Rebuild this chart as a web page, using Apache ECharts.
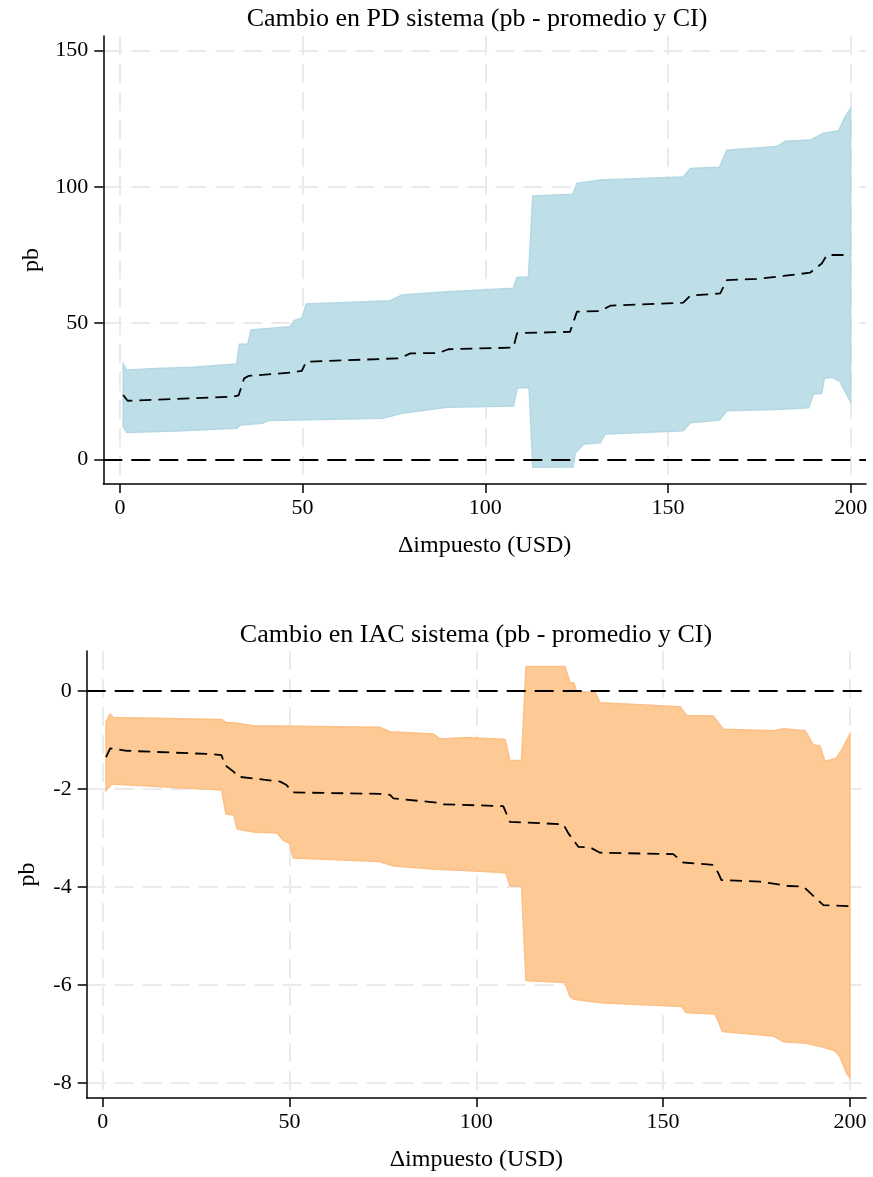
<!DOCTYPE html>
<html><head><meta charset="utf-8">
<script src="https://cdn.jsdelivr.net/npm/echarts@6/dist/echarts.min.js"></script>
<style>html,body{margin:0;padding:0;background:#fff}#c{width:873px;height:1177px}</style>
</head><body><div id="c"></div>
<script>
// ---------- text ----------
const titlePD = 'Cambio en PD sistema (pb - promedio y CI)';
const titleIAC = 'Cambio en IAC sistema (pb - promedio y CI)';
const xName = 'Δimpuesto (USD)';
const yName = 'pb';

// ---------- tick labels ----------
const xTicks = [0, 50, 100, 150, 200];
const pdTicks = [0, 50, 100, 150];
const iacTicks = [-8, -6, -4, -2, 0];

// ---------- PD: upper CI ----------
const pdHiX = [0.9, 1.8, 10, 20, 32, 32.7, 35, 35.9, 46.6, 47.7, 49.8, 51, 74, 77.2, 89.5, 97.7, 107.7, 108.7, 111.8, 113, 124, 125.1, 131.5, 154.2, 156.1, 164.1, 166.1, 179.8, 182.1, 188.9, 192.6, 196.7, 198.5, 200];
const pdHi  = [35.0, 32.8, 33.3, 33.8, 35.0, 42.2, 42.2, 47.5, 48.7, 50.9, 51.9, 57.0, 58.2, 60.3, 61.5, 62.1, 62.8, 66.8, 66.8, 96.7, 97.3, 101.3, 102.5, 103.6, 106.8, 107.2, 113.5, 114.8, 116.8, 117.2, 119.7, 120.6, 125.8, 128.8];
// ---------- PD: lower CI ----------
const pdLoX = [0.9, 1.9, 15, 32, 33, 38.9, 40.7, 72, 77.2, 89.5, 107.7, 108.8, 112, 113, 124, 124.6, 126.9, 131.5, 132.8, 154.2, 156.1, 164.1, 166.1, 179.8, 188.5, 189.8, 192.1, 192.8, 194.9, 197.1, 198.5, 200];
const pdLo  = [12.0, 9.8, 10.4, 11.4, 12.6, 13.2, 14.2, 15.1, 16.9, 19.1, 19.6, 26.3, 26.3, -2.9, -2.8, 2.2, 5.6, 6.1, 9.3, 10.5, 13.4, 14.4, 17.8, 18.3, 18.9, 24.0, 24.2, 29.7, 30.1, 28.5, 24.8, 21.1];
// ---------- PD: mean ----------
const pdMeanX = [0.9, 2.1, 31.1, 32.5, 34, 35.2, 46.6, 49.8, 51, 76.7, 79.5, 87.2, 89.9, 107.7, 108.7, 123.2, 125.1, 131.5, 134.2, 154.2, 156.1, 164.3, 166.1, 174.3, 181.6, 188.9, 192.1, 193.5, 200];
const pdMean  = [23.6, 21.5, 23.0, 23.5, 29.7, 30.6, 31.8, 32.5, 35.8, 37.1, 38.9, 39.0, 40.4, 41.0, 46.3, 46.8, 54.2, 54.4, 56.4, 57.5, 60.1, 60.9, 65.8, 66.2, 67.3, 68.5, 71.9, 75.0, 75.0];

// ---------- IAC: upper CI ----------
const iacHiX = [0.9, 2.0, 2.8, 31.8, 33.2, 35, 40.3, 74, 76.9, 88.5, 90.3, 97.4, 107.7, 109, 112.1, 113.3, 123.7, 125.1, 126.1, 126.8, 131.8, 133.1, 154.5, 156.3, 163.4, 166.1, 179.5, 182.2, 188, 190.2, 192, 193.3, 196.4, 197.8, 200];
const iacHi  = [-0.63, -0.47, -0.54, -0.58, -0.65, -0.65, -0.71, -0.74, -0.83, -0.88, -0.98, -0.95, -0.99, -1.42, -1.42, 0.50, 0.50, 0.17, 0.17, -0.01, -0.03, -0.24, -0.32, -0.50, -0.51, -0.78, -0.81, -0.77, -0.81, -1.10, -1.12, -1.44, -1.37, -1.20, -0.88];
// ---------- IAC: lower CI ----------
const iacLoX = [0.9, 2.4, 31.8, 33, 35.1, 36, 40.3, 46.6, 48.4, 50, 51, 74, 77.8, 89.4, 98.3, 107.9, 109, 112.1, 113.3, 123.7, 125.1, 126.1, 133.1, 155, 156.1, 163.9, 165.9, 179.5, 182.2, 188.4, 192.9, 196, 197.3, 199.1, 200];
const iacLo  = [-2.03, -1.90, -2.02, -2.51, -2.53, -2.82, -2.88, -2.90, -3.05, -3.11, -3.41, -3.48, -3.57, -3.64, -3.67, -3.71, -3.98, -3.98, -5.91, -5.95, -6.24, -6.29, -6.36, -6.44, -6.56, -6.59, -6.95, -7.04, -7.16, -7.19, -7.27, -7.34, -7.46, -7.80, -7.90];
// ---------- IAC: mean ----------
const iacMeanX = [0.9, 2, 6.4, 29.6, 31.8, 32.7, 35.1, 36.3, 47.5, 49.2, 51, 74.2, 76.9, 77.8, 89.4, 90.3, 107.2, 109, 123.3, 124.6, 127.3, 130.4, 133.1, 152.7, 155.4, 163.4, 164.8, 165.6, 175.9, 179.5, 183.5, 187.5, 190.2, 192.9, 200];
const iacMean  = [-1.35, -1.17, -1.22, -1.29, -1.31, -1.51, -1.65, -1.75, -1.85, -1.92, -2.07, -2.10, -2.12, -2.19, -2.28, -2.31, -2.35, -2.67, -2.72, -2.90, -3.18, -3.19, -3.30, -3.33, -3.50, -3.55, -3.72, -3.86, -3.89, -3.93, -3.98, -3.99, -4.18, -4.37, -4.39];

// ---------- helpers ----------
const FONT = '"Liberation Serif", "DejaVu Serif", serif';
const zip = (xs, ys) => xs.map((x, i) => [x, ys[i]]);
const gridLine = { show: true, lineStyle: { color: '#eaeaea', width: 2, type: [19, 9] } };
const axisLine = { show: true, onZero: false, lineStyle: { color: '#000', width: 1.5 } };

function xAxis(idx, min, max) {
  return {
    type: 'value', gridIndex: idx, min: min, max: max,
    name: xName, nameLocation: 'middle', nameGap: 50,
    nameTextStyle: { fontFamily: FONT, fontSize: 24, color: '#000' },
    axisLine: axisLine,
    axisTick: { show: true, length: 9, customValues: xTicks, lineStyle: { color: '#000', width: 1.5 } },
    axisLabel: { customValues: xTicks, fontFamily: FONT, fontSize: 22, color: '#000', margin: 13 },
    splitLine: gridLine
  };
}
function yAxis(idx, min, max, ticks, gap) {
  return {
    type: 'value', gridIndex: idx, min: min, max: max,
    name: yName, nameLocation: 'middle', nameGap: gap,
    nameTextStyle: { fontFamily: FONT, fontSize: 24, color: '#000' },
    axisLine: axisLine,
    axisTick: { show: true, length: 9, customValues: ticks, lineStyle: { color: '#000', width: 1.5 } },
    axisLabel: { customValues: ticks, fontFamily: FONT, fontSize: 22, color: '#000', margin: 15 },
    splitLine: gridLine
  };
}
function band(idx, hiX, hi, loX, lo, fill, stroke) {
  return {
    type: 'custom', xAxisIndex: idx, yAxisIndex: idx, z: 2, silent: true,
    data: [[hiX[0], hi[0]]],
    renderItem: function (params, api) {
      const pts = [];
      for (let i = 0; i < hiX.length; i++) pts.push(api.coord([hiX[i], hi[i]]));
      for (let i = loX.length - 1; i >= 0; i--) pts.push(api.coord([loX[i], lo[i]]));
      return { type: 'polygon', shape: { points: pts }, style: { fill: fill, stroke: stroke, lineWidth: 1.5 } };
    }
  };
}
function zeroLine(idx) {
  return {
    type: 'line', xAxisIndex: idx, yAxisIndex: idx, z: 1, data: [], silent: true,
    markLine: {
      silent: true, symbol: ['none', 'none'], label: { show: false },
      lineStyle: { color: '#000', width: 2, type: [19, 9] },
      data: [{ yAxis: 0 }]
    }
  };
}
function meanLine(idx, xs, ys) {
  return {
    type: 'line', xAxisIndex: idx, yAxisIndex: idx, z: 3, silent: true,
    data: zip(xs, ys), showSymbol: false, symbol: 'none',
    lineStyle: { color: '#000', width: 1.8, type: [12, 7] }
  };
}

const chart = echarts.init(document.getElementById('c'), null, { renderer: 'canvas' });
chart.setOption({
  animation: false,
  backgroundColor: '#fff',
  title: [
    { text: titlePD, left: 477, top: 6, padding: 0, textAlign: 'center',
      textStyle: { fontFamily: FONT, fontSize: 26, fontWeight: 'normal', color: '#000' } },
    { text: titleIAC, left: 476, top: 622, padding: 0, textAlign: 'center',
      textStyle: { fontFamily: FONT, fontSize: 26, fontWeight: 'normal', color: '#000' } }
  ],
  grid: [
    { left: 103.3, right: 7, top: 36, height: 448 },
    { left: 86.7, right: 7, top: 651, height: 447 }
  ],
  xAxis: [ xAxis(0, -4.54, 204.2), xAxis(1, -4.28, 204.3) ],
  yAxis: [ yAxis(0, -9.07, 155.4, pdTicks, 60), yAxis(1, -8.306, 0.816, iacTicks, 47) ],
  series: [
    zeroLine(0),
    band(0, pdHiX, pdHi, pdLoX, pdLo, '#bedfe8', '#b2d8e4'),
    meanLine(0, pdMeanX, pdMean),
    zeroLine(1),
    band(1, iacHiX, iacHi, iacLoX, iacLo, '#fdca96', '#fcbf86'),
    meanLine(1, iacMeanX, iacMean)
  ]
});
</script>
</body></html>
